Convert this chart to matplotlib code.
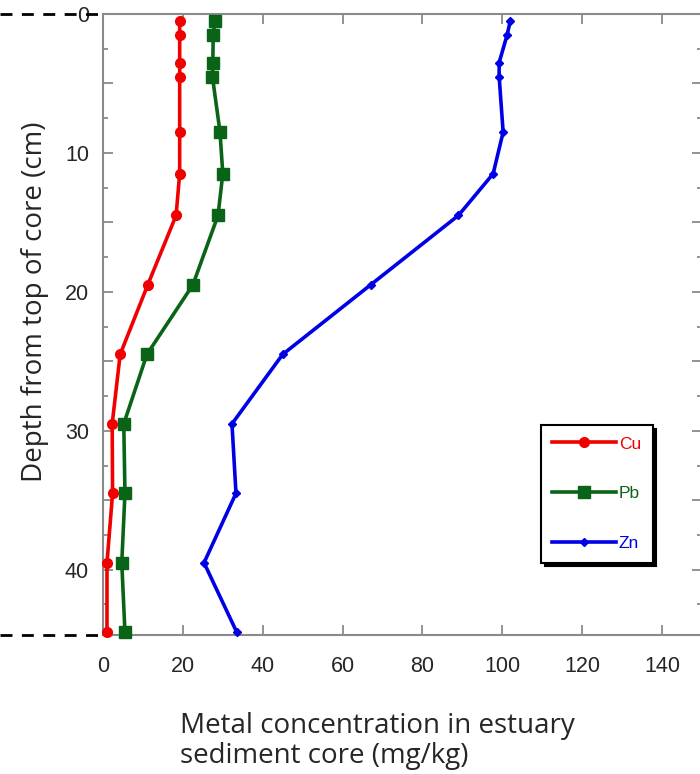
import matplotlib.pyplot as plt
from matplotlib.ticker import MultipleLocator, FuncFormatter

# depth of each sample (cm)
depth = [0.5, 1.5, 3.5, 4.5, 8.5, 11.5, 14.5, 19.5, 24.5, 29.5, 34.5, 39.5, 44.5]

# metal concentrations (mg/kg)
cu = [19.2, 19.2, 19.2, 19.2, 19.2, 19.2, 18.3, 11.2, 4.3, 2.3, 2.4, 1.0, 1.0]
pb = [28.0, 27.6, 27.5, 27.4, 29.3, 30.0, 28.8, 22.5, 11.0, 5.2, 5.5, 4.7, 5.5]
zn = [102.0, 101.2, 99.2, 99.2, 100.2, 97.7, 89.0, 67.0, 45.0, 32.3, 33.3, 25.3, 33.5]

colors = {
    'cu': '#F00000',
    'pb': '#0A6418',
    'zn': '#0000E6',
    'spine': '#8A8A8A',
    'text': '#262626',
}

fig = plt.figure(figsize=(7.0, 7.74), dpi=100)
ax = fig.add_axes([103 / 700, 139 / 774, 599 / 700, 621 / 774])

ax.plot(cu, depth, color=colors['cu'], lw=2.6, marker='o', ms=7, label='Cu', clip_on=False, zorder=4)
ax.plot(pb, depth, color=colors['pb'], lw=2.6, marker='s', ms=8, label='Pb', clip_on=False, zorder=3)
ax.plot(zn, depth, color=colors['zn'], lw=2.6, marker='D', ms=4.5, label='Zn', clip_on=False, zorder=3)

ax.set_xlim(0, 150)
ax.set_ylim(44.7, 0)

# axes frame and ticks
for side in ax.spines.values():
    side.set_color(colors['spine'])
    side.set_linewidth(1.5)

ax.xaxis.set_major_locator(MultipleLocator(20))
ax.yaxis.set_major_locator(MultipleLocator(5))
ax.yaxis.set_minor_locator(MultipleLocator(2.5))
ax.yaxis.set_major_formatter(FuncFormatter(lambda v, p: f'{v:.0f}' if v % 10 == 0 else ''))

ax.tick_params(which='both', direction='in', color=colors['spine'], top=True, right=True,
               labelcolor=colors['text'], labelsize=15.5, width=1.3)
ax.tick_params(which='major', length=7)
ax.tick_params(which='minor', length=3.5)
ax.tick_params(axis='x', pad=15)
ax.tick_params(axis='y', pad=10)
for lbl in ax.get_xticklabels() + ax.get_yticklabels():
    lbl.set_family('Liberation Sans')

# dashed guides at top and bottom of core
x0 = -103 / 599
for yy in (1.0, 0.0):
    ax.plot([x0, -0.005], [yy, yy], transform=ax.transAxes, color='black', lw=2.0,
            dashes=(4.3, 3.4), clip_on=False, zorder=5)

leg = ax.legend(loc='upper left', bbox_to_anchor=(0.731, 0.338), borderaxespad=0,
                fancybox=False, edgecolor='black', framealpha=1, labelcolor='linecolor',
                prop={'family': 'Liberation Sans', 'size': 12.5}, handlelength=3.7,
                labelspacing=2.0, borderpad=0.65, handletextpad=0.15,
                shadow={'color': 'black', 'alpha': 1, 'ox': 2.8, 'oy': -2.8})
leg.get_frame().set_linewidth(1.5)

fig.text(35 / 700, 1 - 302 / 774, 'Depth from top of core (cm)', rotation=90,
         ha='center', va='center', fontsize=20, family='Open Sans', color=colors['text'])
fig.text(180 / 700, 1 - 741 / 774, 'Metal concentration in estuary\nsediment core (mg/kg)',
         ha='left', va='center', fontsize=20, family='Open Sans', color=colors['text'],
         linespacing=1.1)

fig.savefig('out.png', dpi=100)
